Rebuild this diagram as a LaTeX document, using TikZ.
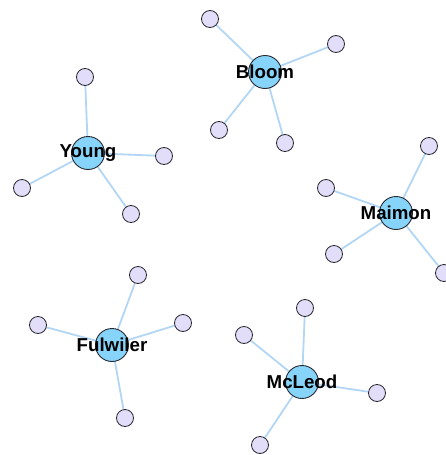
\documentclass[tikz,border=0pt]{standalone}
\usepackage{fontspec}
\setmainfont{Liberation Sans}
\usetikzlibrary{backgrounds}
\definecolor{hubfill}{RGB}{135,212,250}
\definecolor{leaffill}{RGB}{226,222,250}
\definecolor{edgecol}{RGB}{178,214,244}
\definecolor{rimcol}{RGB}{40,40,48}
\tikzset{
  hub/.style={circle, draw=rimcol, line width=0.9pt, fill=hubfill, minimum size=33pt, inner sep=0pt},
  leaf/.style={circle, draw=rimcol, line width=0.8pt, fill=leaffill, minimum size=17pt, inner sep=0pt},
  tie/.style={draw=edgecol, line width=1.8pt},
  tag/.style={font=\bfseries\fontsize{18.7}{20}\selectfont, text=black, inner sep=0pt}
}
\begin{document}
\begin{tikzpicture}[x=1pt,y=-1pt]
\useasboundingbox (0,0) rectangle (445,455);
% hubs
\node[hub] (bloom)  at (265,72)  {};
\node[hub] (young)  at (88,153)  {};
\node[hub] (maimon) at (396,213) {};
\node[hub] (fulw)   at (112,345) {};
\node[hub] (mcleod) at (302,382) {};
% leaves
\node[leaf] (b1) at (210,19)  {};
\node[leaf] (b2) at (336,44)  {};
\node[leaf] (b3) at (219,130) {};
\node[leaf] (b4) at (285,143) {};
\node[leaf] (y1) at (85,77)   {};
\node[leaf] (y2) at (164,156) {};
\node[leaf] (y3) at (22,188)  {};
\node[leaf] (y4) at (131,214) {};
\node[leaf] (m1) at (429,146) {};
\node[leaf] (m2) at (326,188) {};
\node[leaf] (m3) at (334,254) {};
\node[leaf] (m4) at (444,273) {};
\node[leaf] (f1) at (138,275) {};
\node[leaf] (f2) at (38,325)  {};
\node[leaf] (f3) at (183,323) {};
\node[leaf] (f4) at (125,418) {};
\node[leaf] (c1) at (305,308) {};
\node[leaf] (c2) at (244,335) {};
\node[leaf] (c3) at (377,393) {};
\node[leaf] (c4) at (260,445) {};
% edges behind the nodes
\begin{scope}[on background layer]
\foreach \h/\l in {bloom/b1,bloom/b2,bloom/b3,bloom/b4,
                   young/y1,young/y2,young/y3,young/y4,
                   maimon/m1,maimon/m2,maimon/m3,maimon/m4,
                   fulw/f1,fulw/f2,fulw/f3,fulw/f4,
                   mcleod/c1,mcleod/c2,mcleod/c3,mcleod/c4}
  \draw[tie] (\h.center) -- (\l.center);
\end{scope}
% labels
\node[tag] (tb) at (bloom)  {Bloom};
\node[tag] (ty) at (young)  {Young};
\node[tag] (tm) at (maimon) {Maimon};
\node[tag] (tf) at (fulw)   {Fulwiler};
\node[tag] (tc) at (mcleod) {McLeod};
\end{tikzpicture}
\end{document}
